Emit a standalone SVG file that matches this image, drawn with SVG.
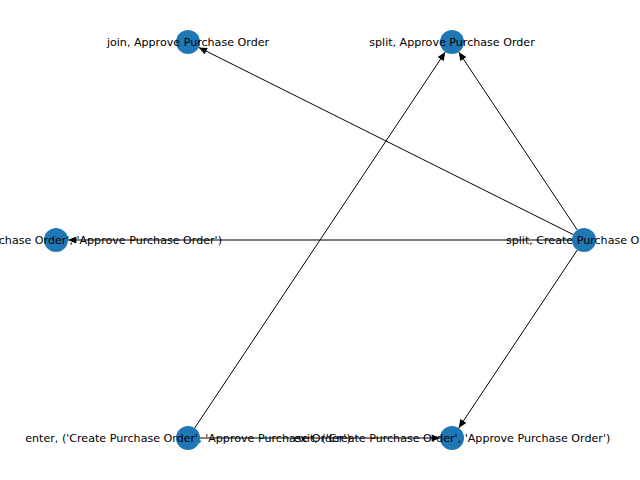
<svg xmlns="http://www.w3.org/2000/svg" width="640" height="480" viewBox="0 0 640 480">
<style>
.e{stroke:#000;stroke-width:1;fill:none;marker-end:url(#ah)}
.n{fill:#1f77b4}
.t{font-family:"DejaVu Sans",sans-serif;font-size:11.1px;fill:#000;text-anchor:middle}
</style>
<defs>
<marker id="ah" markerUnits="userSpaceOnUse" markerWidth="10" markerHeight="10" viewBox="-8 -4 9 8" refX="0" refY="0" orient="auto">
<path d="M0,0 L-7.5,-3.2 L-7.5,3.2 Z" fill="#000"/>
</marker>
</defs>
<rect width="640" height="480" fill="#fff"/>
<g id="edges">
<line class="e" x1="573.3" y1="234.6" x2="198.7" y2="47.4"/>
<line class="e" x1="577.3" y1="230.0" x2="458.7" y2="52.0"/>
<line class="e" x1="572" y1="240" x2="68" y2="240"/>
<line class="e" x1="577.3" y1="250.0" x2="458.7" y2="428.0"/>
<line class="e" x1="194.7" y1="428.0" x2="445.3" y2="52.0"/>
<line class="e" x1="200" y1="438" x2="440" y2="438"/>
</g>
<g id="n-join-approve"><circle class="n" cx="188" cy="42" r="12"/></g>
<g id="n-split-approve"><circle class="n" cx="452" cy="42" r="12"/></g>
<g id="n-left"><circle class="n" cx="56" cy="240" r="12"/></g>
<g id="n-split-create"><circle class="n" cx="584" cy="240" r="12"/></g>
<g id="n-enter"><circle class="n" cx="188" cy="438" r="12"/></g>
<g id="n-exit"><circle class="n" cx="452" cy="438" r="12"/></g>
<g id="labels">
<text class="t" x="188" y="46">join, Approve Purchase Order</text>
<text class="t" x="452" y="46">split, Approve Purchase Order</text>
<text class="t" x="222" y="244" style="text-anchor:end">split, ('Create Purchase Order', 'Approve Purchase Order')</text>
<text class="t" x="584" y="244">split, Create Purchase Order</text>
<text class="t" x="188" y="442">enter, ('Create Purchase Order', 'Approve Purchase Order')</text>
<text class="t" x="452" y="442">exit, ('Create Purchase Order', 'Approve Purchase Order')</text>
</g>
</svg>
